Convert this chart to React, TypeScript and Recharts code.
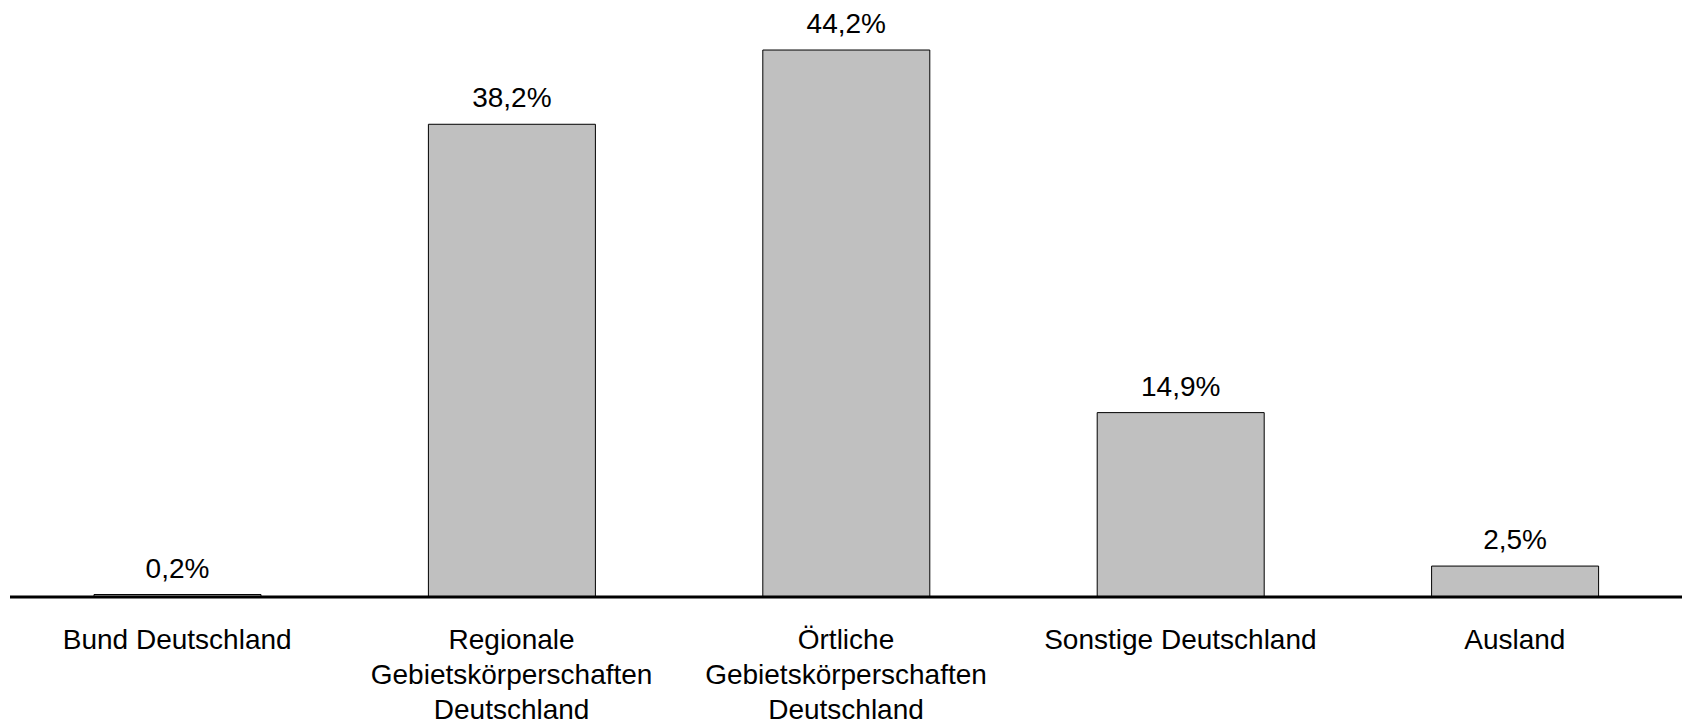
import React from 'react';
import { BarChart, Bar, XAxis, YAxis, LabelList } from 'recharts';

const categories: string[] = [
  'Bund Deutschland',
  'Regionale\nGebietskörperschaften\nDeutschland',
  'Örtliche\nGebietskörperschaften\nDeutschland',
  'Sonstige Deutschland',
  'Ausland',
];
const shares: number[] = [0.2, 38.2, 44.2, 14.9, 2.5];

const data = categories.map((c, i) => ({ name: c, value: shares[i] }));

const FONT = '"Liberation Sans", Arial, sans-serif';

const fmt = (v: any) => `${Number(v).toFixed(1).replace('.', ',')}%`;

const Tick = (props: any) => {
  const { x, y, payload } = props;
  const lines: string[] = String(payload.value).split('\n');
  return (
    <g>
      {lines.map((l, i) => (
        <text
          key={i}
          x={x}
          y={y + 50 + i * 35}
          textAnchor="middle"
          fontFamily={FONT}
          fontSize={28}
          fill="#000"
        >
          {l}
        </text>
      ))}
    </g>
  );
};

export default function App() {
  return (
    <div style={{ position: 'absolute', left: 0, top: 0, width: 1686, height: 726, background: '#fff' }}>
      <BarChart
        width={1686}
        height={726}
        data={data}
        margin={{ top: 3, right: 4, bottom: 0, left: 10 }}
        barCategoryGap={0}
      >
        <YAxis hide domain={[0, 48]} />
        <XAxis
          dataKey="name"
          interval={0}
          height={129}
          tickLine={false}
          tickSize={0}
          axisLine={{ stroke: '#000', strokeWidth: 3 }}
          tick={<Tick />}
        />
        <Bar dataKey="value" fill="#c0c0c0" stroke="#000" strokeWidth={1} barSize={167} isAnimationActive={false}>
          <LabelList
            dataKey="value"
            position="top"
            offset={17}
            formatter={fmt}
            style={{ fontFamily: FONT, fontSize: 28, fill: '#000' }}
          />
        </Bar>
      </BarChart>
    </div>
  );
}
